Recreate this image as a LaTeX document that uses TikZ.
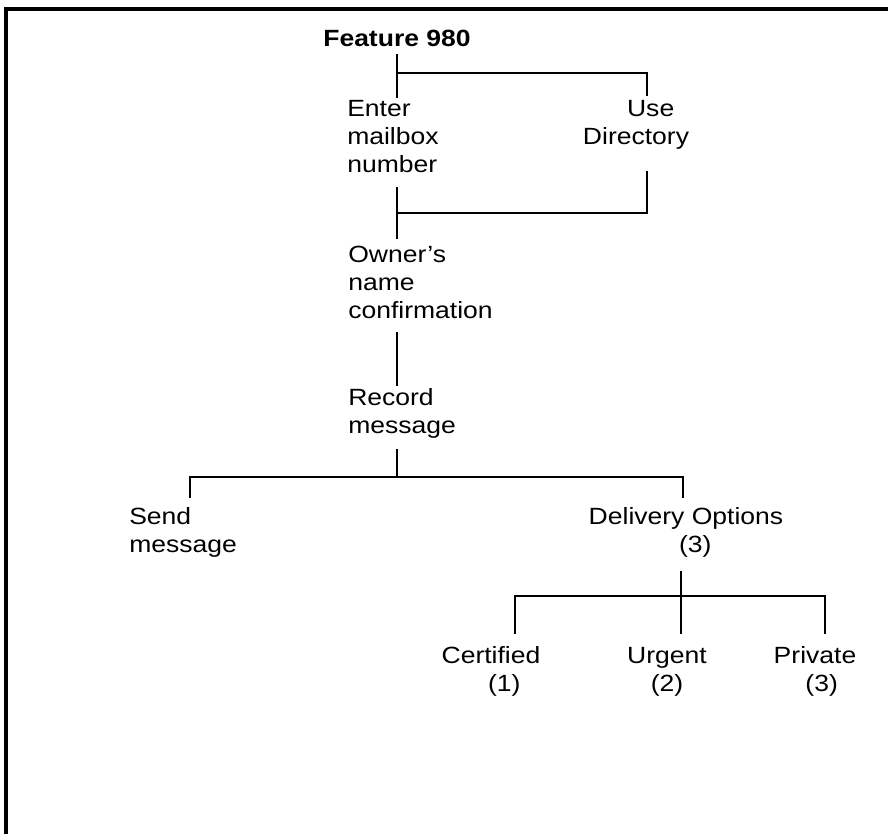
\documentclass[tikz,border=0pt]{standalone}
\usepackage{fontspec}
\newfontfamily\labfont{Liberation Sans}[FakeStretch=1.13]
\begin{document}
\begin{tikzpicture}[x=0.75pt,y=-0.75pt,
  lab/.style={inner sep=0pt,font=\labfont\fontsize{17.6pt}{21pt}\selectfont},
  lableft/.style={lab,align=left,anchor=base west},
  labmid/.style={lab,align=center,anchor=base},
  conn/.style={line width=0.9pt,line cap=rect},
  frame/.style={line width=2.3pt}]
\useasboundingbox (0,0) rectangle (888,834);
\fill[white] (0,0) rectangle (888,834);
% frame (top and left only)
\coordinate (fbl) at (6,834);
\coordinate (ftl) at (6,9);
\coordinate (ftr) at (888,9);
\draw[frame] (fbl) -- (ftl) -- (ftr);
% nodes (anchor = baseline of the last line)
\node[labmid,font=\labfont\bfseries\fontsize{17.6pt}{21pt}\selectfont] (feat) at (397,47) {Feature 980};
\node[lableft] (enter) at (347,173) {Enter\\mailbox\\number};
\node[labmid] (usedir) at (636,145) {\hspace*{22pt}Use\\Directory};
\node[lableft] (owner) at (348,318) {Owner’s\\name\\confirmation};
\node[lableft] (record) at (348,433) {Record\\message};
\node[lableft] (send) at (129,552) {Send\\message};
\node[labmid] (deliv) at (686,552) {Delivery Options\\\hspace*{14pt}(3)};
\node[labmid] (cert) at (491,691) {Certified\\\hspace*{20pt}(1)};
\node[labmid] (urg) at (667,691) {Urgent\\(2)};
\node[labmid] (priv) at (815,691) {Private\\\hspace*{10pt}(3)};
% junction coordinates
\coordinate (a1) at (397,55);
\coordinate (a2) at (397,97);
\coordinate (a3) at (397,73);
\coordinate (a4) at (647,73);
\coordinate (a5) at (647,95);
\coordinate (b1) at (647,172);
\coordinate (b2) at (647,213);
\coordinate (b3) at (397,213);
\coordinate (b4) at (397,188);
\coordinate (b5) at (397,238);
\coordinate (c1) at (397,333);
\coordinate (c2) at (397,385);
\coordinate (d1) at (397,450);
\coordinate (d2) at (397,477);
\coordinate (d3) at (190,497);
\coordinate (d4) at (190,477);
\coordinate (d5) at (683,477);
\coordinate (d6) at (683,497);
\coordinate (e1) at (681,572);
\coordinate (e2) at (681,633);
\coordinate (e3) at (515,633);
\coordinate (e4) at (515,596);
\coordinate (e5) at (825,596);
\coordinate (e6) at (825,633);
% connectors
\draw[conn] (a1) -- (a2);
\draw[conn] (a3) -- (a4) -- (a5);
\draw[conn] (b1) -- (b2) -- (b3);
\draw[conn] (b4) -- (b5);
\draw[conn] (c1) -- (c2);
\draw[conn] (d1) -- (d2);
\draw[conn] (d3) -- (d4) -- (d5) -- (d6);
\draw[conn] (e1) -- (e2);
\draw[conn] (e3) -- (e4) -- (e5) -- (e6);
\end{tikzpicture}
\end{document}
